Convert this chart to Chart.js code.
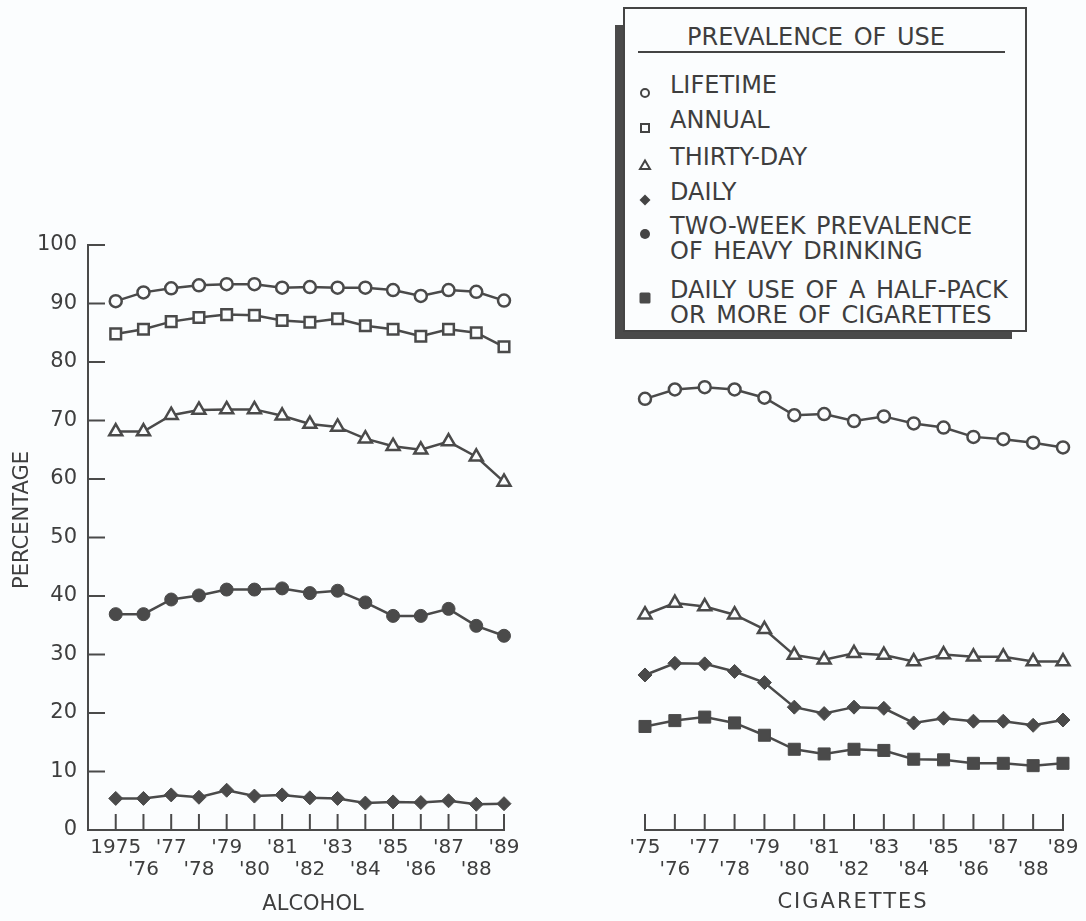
<!DOCTYPE html>
<html>
<head>
<meta charset="utf-8">
<script src="https://cdn.jsdelivr.net/npm/chart.js@4.4.0/dist/chart.umd.min.js"></script>
<style>
  html, body { margin: 0; padding: 0; background: #fbfdfe; }
  #wrap { position: relative; width: 1086px; height: 921px; overflow: hidden; background: #fbfdfe; }
  #c1 { position: absolute; left: 0; top: 0; }
  #c2 { position: absolute; left: 560px; top: 0; }
  #legendShadow { position: absolute; left: 615px; top: 25px; width: 397px; height: 314px; background: #4a4a4a; }
  #legend {
    position: absolute; left: 623px; top: 7px; width: 404px; height: 325px;
    box-sizing: border-box; border: 2px solid #444; background: #fbfdfe;
    font-family: "DejaVu Sans", sans-serif; font-size: 24px; color: #3e3e3e;
  }
  #legend .ln { position: absolute; height: 30px; line-height: 30px; white-space: nowrap; word-spacing: 3px; }
  #legend .sym { position: absolute; width: 14px; height: 14px; }
  #legend .rule { position: absolute; height: 2px; background: #444; }
</style>
</head>
<body>
<div id="wrap">
  <canvas id="c1" width="560" height="921" style="width:560px;height:921px"></canvas>
  <canvas id="c2" width="526" height="921" style="width:526px;height:921px"></canvas>
  <div id="legendShadow"></div>
  <div id="legend"></div>
</div>
<script>
// ---------- data ----------
const years = [1975, 1976, 1977, 1978, 1979, 1980, 1981, 1982, 1983, 1984, 1985, 1986, 1987, 1988, 1989];
const alcoholTickLabels = ['1975', "'76", "'77", "'78", "'79", "'80", "'81", "'82", "'83", "'84", "'85", "'86", "'87", "'88", "'89"];
const cigaretteTickLabels = ["'75", "'76", "'77", "'78", "'79", "'80", "'81", "'82", "'83", "'84", "'85", "'86", "'87", "'88", "'89"];
const yTickValues = [0, 10, 20, 30, 40, 50, 60, 70, 80, 90, 100];

const alcoholLifetime = [90.4, 91.9, 92.6, 93.1, 93.3, 93.3, 92.7, 92.8, 92.7, 92.7, 92.3, 91.3, 92.3, 92.0, 90.5];
const alcoholAnnual   = [84.8, 85.6, 86.9, 87.6, 88.1, 88.0, 87.1, 86.8, 87.4, 86.2, 85.6, 84.4, 85.6, 85.0, 82.6];
const alcoholThirtyDay = [68.1, 68.1, 70.9, 71.8, 71.9, 71.9, 70.8, 69.4, 68.9, 66.9, 65.6, 65.0, 66.4, 63.8, 59.5];
const alcoholDaily    = [5.4, 5.4, 6.0, 5.6, 6.8, 5.8, 6.0, 5.5, 5.4, 4.6, 4.8, 4.7, 5.0, 4.4, 4.5];
const alcoholHeavy    = [36.9, 36.9, 39.4, 40.1, 41.1, 41.1, 41.3, 40.5, 40.9, 38.9, 36.6, 36.6, 37.8, 34.9, 33.2];

const cigLifetime  = [73.7, 75.3, 75.7, 75.3, 73.9, 70.9, 71.1, 69.9, 70.7, 69.5, 68.8, 67.2, 66.8, 66.2, 65.4];
const cigThirtyDay = [36.8, 38.8, 38.2, 36.8, 34.3, 29.9, 29.1, 30.2, 29.9, 28.8, 30.0, 29.6, 29.6, 28.8, 28.8];
const cigDaily     = [26.5, 28.5, 28.4, 27.1, 25.2, 21.0, 19.9, 21.0, 20.8, 18.3, 19.1, 18.6, 18.6, 17.9, 18.8];
const cigHalfPack  = [17.7, 18.7, 19.3, 18.3, 16.2, 13.8, 13.0, 13.8, 13.6, 12.1, 12.0, 11.4, 11.4, 11.0, 11.4];

const legendTitle = 'PREVALENCE OF USE';
const legendLabels = [
  ['LIFETIME'],
  ['ANNUAL'],
  ['THIRTY-DAY'],
  ['DAILY'],
  ['TWO-WEEK PREVALENCE', 'OF HEAVY DRINKING'],
  ['DAILY USE OF A HALF-PACK', 'OR MORE OF CIGARETTES']
];
const axisTitleY = 'PERCENTAGE';
const panelTitles = ['ALCOHOL', 'CIGARETTES'];

// ---------- styles ----------
const INK = '#4a4a4a';
const TEXT = '#3e3e3e';
const BG = '#fbfdfe';
const FONT = '"DejaVu Sans", sans-serif';

const markerStyles = {
  lifetime:  { pointStyle: 'circle',   pointRadius: 6,   pointBackgroundColor: BG,  pointBorderWidth: 2.5 },
  annual:    { pointStyle: 'rect',     pointRadius: 7.5, pointBackgroundColor: BG,  pointBorderWidth: 2.5 },
  thirty:    { pointStyle: 'triangle', pointRadius: 7.5, pointBackgroundColor: BG,  pointBorderWidth: 2.5 },
  daily:     { pointStyle: 'rectRot',  pointRadius: 7,   pointBackgroundColor: INK, pointBorderWidth: 1 },
  heavy:     { pointStyle: 'circle',   pointRadius: 6.5, pointBackgroundColor: INK, pointBorderWidth: 1 },
  halfpack:  { pointStyle: 'rect',     pointRadius: 8.5, pointBackgroundColor: INK, pointBorderWidth: 1 }
};

function series(label, values, style) {
  return Object.assign({
    label,
    data: values.map((v, i) => ({ x: years[i], y: v })),
    borderColor: INK,
    borderWidth: 2.5,
    pointBorderColor: INK,
    pointHoverRadius: 0,
    tension: 0,
    clip: false,
    fill: false
  }, style);
}

// ---------- plugins ----------
const TICKLEN = 16;
const inwardTicks = {
  id: 'inwardTicks',
  beforeDatasetsDraw(chart, args, opts) {
    const ctx = chart.ctx;
    const { left, bottom } = chart.chartArea;
    ctx.save();
    ctx.strokeStyle = INK;
    ctx.lineWidth = 2;
    ctx.beginPath();
    const xs = chart.scales.x;
    years.forEach(yr => {
      const px = xs.getPixelForValue(yr);
      ctx.moveTo(px, bottom);
      ctx.lineTo(px, bottom - TICKLEN);
    });
    if (opts.yTicks) {
      const ys = chart.scales.y;
      yTickValues.forEach(v => {
        const py = ys.getPixelForValue(v);
        ctx.moveTo(left, py);
        ctx.lineTo(left + TICKLEN + 1, py);
      });
    }
    ctx.stroke();
    ctx.restore();
  }
};

const axisTitles = {
  id: 'axisTitles',
  afterDraw(chart, args, opts) {
    const ctx = chart.ctx;
    (opts.items || []).forEach(it => {
      ctx.save();
      ctx.font = it.size + 'px ' + FONT;
      ctx.fillStyle = TEXT;
      ctx.textAlign = 'center';
      ctx.textBaseline = 'middle';
      if (it.spacing) ctx.letterSpacing = it.spacing;
      ctx.translate(it.x, it.y);
      if (it.rotate) ctx.rotate(-Math.PI / 2);
      ctx.fillText(it.text, 0, 0);
      ctx.restore();
    });
  }
};

function xTickCallback(labels) {
  return function (value) {
    const i = years.indexOf(value);
    if (i < 0) return '';
    return i % 2 === 0 ? [labels[i], ''] : ['', labels[i]];
  };
}

function makeOptions(cfg) {
  return {
    responsive: false,
    animation: false,
    devicePixelRatio: 1,
    layout: { padding: cfg.padding },
    plugins: {
      legend: { display: false },
      tooltip: { enabled: false },
      inwardTicks: { yTicks: cfg.showY },
      axisTitles: { items: cfg.titles }
    },
    scales: {
      x: {
        type: 'linear',
        min: cfg.xmin, max: 1989,
        grid: { display: false, drawTicks: false },
        border: { display: true, color: INK, width: 2 },
        afterFit: s => { s.height = 91; },
        ticks: {
          stepSize: 1, autoSkip: false, maxRotation: 0, minRotation: 0,
          padding: 7, color: TEXT,
          font: { family: FONT, size: 20, lineHeight: 1.1 },
          callback: xTickCallback(cfg.labels)
        }
      },
      y: {
        type: 'linear',
        display: cfg.showY,
        min: 0, max: 100,
        grid: { display: false, drawTicks: false },
        border: { display: true, color: INK, width: 2 },
        afterFit: s => { s.width = cfg.showY ? 88 : 0; },
        ticks: {
          stepSize: 10, padding: 11, color: TEXT,
          font: { family: FONT, size: 21 }
        }
      }
    }
  };
}

// ---------- charts ----------
new Chart(document.getElementById('c1'), {
  type: 'line',
  data: {
    datasets: [
      series('Lifetime', alcoholLifetime, markerStyles.lifetime),
      series('Annual', alcoholAnnual, markerStyles.annual),
      series('Thirty-day', alcoholThirtyDay, markerStyles.thirty),
      series('Two-week heavy drinking', alcoholHeavy, markerStyles.heavy),
      series('Daily', alcoholDaily, markerStyles.daily)
    ]
  },
  options: makeOptions({
    padding: { top: 245, right: 56, bottom: 0, left: 0 },
    xmin: 1974, showY: true, labels: alcoholTickLabels,
    titles: [
      { text: panelTitles[0], x: 313, y: 905, size: 21 },
      { text: axisTitleY, x: 23, y: 520, size: 21, rotate: true }
    ]
  }),
  plugins: [inwardTicks, axisTitles]
});

new Chart(document.getElementById('c2'), {
  type: 'line',
  data: {
    datasets: [
      series('Lifetime', cigLifetime, markerStyles.lifetime),
      series('Thirty-day', cigThirtyDay, markerStyles.thirty),
      series('Daily', cigDaily, markerStyles.daily),
      series('Half-pack daily', cigHalfPack, markerStyles.halfpack)
    ]
  },
  options: makeOptions({
    padding: { top: 245, right: 23, bottom: 0, left: 85 },
    xmin: 1975, showY: false, labels: cigaretteTickLabels,
    titles: [
      { text: panelTitles[1], x: 293, y: 903, size: 21, spacing: '2px' }
    ]
  }),
  plugins: [inwardTicks, axisTitles]
});

// ---------- legend (HTML) ----------
(function buildLegend() {
  const box = document.getElementById('legend');
  const BOX_L = 623 + 2, BOX_T = 7 + 2; // inner origin (inside border)
  const symbolKinds = ['openCircle', 'openSquare', 'openTriangle', 'diamond', 'dot', 'filledSquare'];
  const rowCenters = [[85], [120], [157], [192], [226, 251], [290, 315]];

  function add(el) { box.appendChild(el); return el; }

  const t = add(document.createElement('div'));
  t.className = 'ln';
  t.textContent = legendTitle;
  t.style.left = (687 - BOX_L) + 'px';
  t.style.top = (37 - 15 - BOX_T) + 'px';

  const r = add(document.createElement('div'));
  r.className = 'rule';
  r.style.left = (638 - BOX_L) + 'px';
  r.style.width = (1005 - 638) + 'px';
  r.style.top = (51 - BOX_T) + 'px';

  const svgs = {
    openCircle:   '<circle cx="7" cy="7" r="4" fill="none" stroke="#444" stroke-width="2"/>',
    openSquare:   '<rect x="3" y="3" width="8" height="8" fill="none" stroke="#444" stroke-width="2"/>',
    openTriangle: '<polygon points="7,2.5 12,11 2,11" fill="none" stroke="#444" stroke-width="2"/>',
    diamond:      '<polygon points="7,1.5 12.5,7 7,12.5 1.5,7" fill="#444"/>',
    dot:          '<circle cx="7" cy="7" r="5" fill="#444"/>',
    filledSquare: '<rect x="1.5" y="1.5" width="11" height="11" rx="1.5" fill="#4a4a4a"/>'
  };

  legendLabels.forEach((lines, i) => {
    const s = add(document.createElement('div'));
    s.className = 'sym';
    s.innerHTML = '<svg width="14" height="14" viewBox="0 0 14 14">' + svgs[symbolKinds[i]] + '</svg>';
    s.style.left = (645 - 7 - BOX_L) + 'px';
    s.style.top = (rowCenters[i][0] - 7 - BOX_T) + 'px';
    lines.forEach((txt, j) => {
      const d = add(document.createElement('div'));
      d.className = 'ln';
      d.textContent = txt;
      d.style.left = (670 - BOX_L) + 'px';
      d.style.top = (rowCenters[i][j] - 15 - BOX_T) + 'px';
    });
  });
})();
</script>
</body>
</html>
